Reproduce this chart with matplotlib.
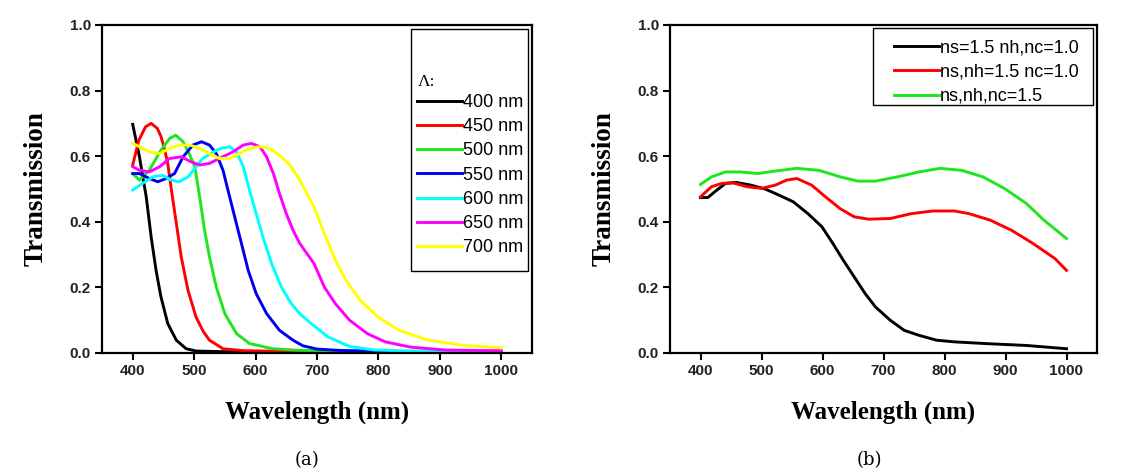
import matplotlib as mpl
mpl.use('Agg')
import matplotlib.pyplot as plt
from matplotlib.patches import Rectangle

W, H = 1123, 475

# ---- panel (a): grating period sweep ----
wl_400 = [400, 411, 422, 430, 438, 446, 457, 471, 487, 503, 550, 650, 800, 1000]
t_400 = [0.697, 0.598, 0.476, 0.354, 0.252, 0.171, 0.09, 0.039, 0.013, 0.006, 0.004, 0.003, 0.002, 0.002]

wl_450 = [400, 410, 421, 430, 440, 446, 452, 457, 463, 471, 479, 490, 503, 515, 525, 547, 580, 650, 800, 1000]
t_450 = [0.573, 0.649, 0.69, 0.70, 0.685, 0.660, 0.620, 0.578, 0.497, 0.395, 0.293, 0.191, 0.11, 0.065,
         0.039, 0.013, 0.007, 0.005, 0.004, 0.003]

wl_500 = [400, 411, 427, 446, 460, 470, 482, 492, 501, 509, 517, 525, 536, 550, 569, 590, 628, 672, 750, 1000]
t_500 = [0.547, 0.527, 0.557, 0.619, 0.654, 0.664, 0.644, 0.608, 0.568, 0.476, 0.374, 0.293, 0.201, 0.12,
         0.059, 0.029, 0.013, 0.008, 0.006, 0.004]

wl_550 = [400, 411, 427, 441, 454, 468, 482, 498, 512, 525, 536, 547, 555, 566, 577, 588, 601, 618, 639,
          661, 677, 700, 735, 800, 1000]
t_550 = [0.547, 0.547, 0.532, 0.522, 0.532, 0.547, 0.598, 0.634, 0.644, 0.634, 0.608, 0.557, 0.497, 0.415,
         0.334, 0.252, 0.181, 0.12, 0.069, 0.039, 0.022, 0.012, 0.008, 0.005, 0.004]

wl_600 = [400, 416, 433, 449, 463, 476, 490, 501, 514, 531, 544, 558, 569, 580, 590, 601, 612, 626, 642,
          658, 672, 689, 718, 753, 794, 850, 1000]
t_600 = [0.497, 0.517, 0.537, 0.542, 0.527, 0.522, 0.537, 0.563, 0.593, 0.613, 0.624, 0.629, 0.613, 0.568,
         0.497, 0.425, 0.354, 0.273, 0.201, 0.151, 0.12, 0.092, 0.049, 0.020, 0.009, 0.006, 0.005]

wl_650 = [400, 411, 427, 444, 460, 479, 495, 509, 525, 541, 563, 580, 593, 607, 618, 629, 639, 650, 661,
          672, 695, 712, 730, 753, 782, 811, 852, 910, 1000]
t_650 = [0.568, 0.557, 0.552, 0.568, 0.593, 0.598, 0.583, 0.573, 0.578, 0.593, 0.613, 0.634, 0.639, 0.629,
         0.598, 0.547, 0.486, 0.425, 0.374, 0.334, 0.273, 0.201, 0.15, 0.10, 0.059, 0.034, 0.018, 0.009, 0.007]

wl_700 = [400, 411, 427, 444, 460, 476, 493, 509, 525, 541, 558, 574, 590, 607, 623, 639, 656, 672, 695,
          712, 730, 747, 770, 799, 834, 881, 939, 1000]
t_700 = [0.639, 0.629, 0.613, 0.608, 0.624, 0.634, 0.634, 0.624, 0.608, 0.593, 0.593, 0.608, 0.624, 0.629,
         0.624, 0.603, 0.573, 0.527, 0.446, 0.364, 0.283, 0.222, 0.161, 0.11, 0.069, 0.039, 0.023, 0.016]

labels_a = ['400 nm', '450 nm', '500 nm', '550 nm', '600 nm', '650 nm', '700 nm']
colors_a = ['black', '#ff0000', '#1ee61e', '#0000ee', '#00ffff', '#ff00ff', '#ffff00']

# ---- panel (b): refractive index cases ----
wl_b1 = [400, 412, 423, 441, 459, 482, 506, 529, 552, 576, 599, 617, 634, 652, 670, 687, 711, 734, 758,
         787, 816, 875, 934, 1000]
t_b1 = [0.474, 0.474, 0.491, 0.517, 0.52, 0.512, 0.50, 0.481, 0.461, 0.425, 0.385, 0.334, 0.283, 0.232,
        0.181, 0.140, 0.10, 0.069, 0.054, 0.039, 0.034, 0.028, 0.023, 0.013]

wl_b2 = [400, 418, 435, 453, 476, 500, 523, 541, 558, 582, 605, 629, 652, 676, 711, 746, 781, 816, 840,
         875, 910, 945, 981, 1000]
t_b2 = [0.476, 0.507, 0.517, 0.519, 0.507, 0.502, 0.512, 0.527, 0.532, 0.512, 0.476, 0.44, 0.415, 0.408,
        0.41, 0.425, 0.433, 0.433, 0.425, 0.405, 0.374, 0.334, 0.288, 0.252]

wl_b3 = [400, 418, 441, 465, 494, 523, 558, 594, 629, 658, 687, 723, 758, 793, 828, 863, 898, 934, 963, 1000]
t_b3 = [0.514, 0.537, 0.552, 0.552, 0.547, 0.555, 0.563, 0.557, 0.537, 0.524, 0.524, 0.537, 0.552, 0.563,
        0.557, 0.537, 0.502, 0.456, 0.405, 0.349]

labels_b = ['ns=1.5 nh,nc=1.0', 'ns,nh=1.5 nc=1.0', 'ns,nh,nc=1.5']
colors_b = ['black', '#ff0000', '#1ee61e']

fig = plt.figure(figsize=(W / 100, H / 100), dpi=100)
ax1 = fig.add_axes([102 / W, 1 - 353 / H, 430 / W, 328 / H])
ax2 = fig.add_axes([670 / W, 1 - 353 / H, 427 / W, 328 / H])

series_a = [(wl_400, t_400), (wl_450, t_450), (wl_500, t_500), (wl_550, t_550),
            (wl_600, t_600), (wl_650, t_650), (wl_700, t_700)]
lines_a = []
for (x, y), c in zip(series_a, colors_a):
    ln, = ax1.plot(x, y, color=c, lw=2.1)
    lines_a.append(ln)

series_b = [(wl_b1, t_b1), (wl_b2, t_b2), (wl_b3, t_b3)]
lines_b = []
for (x, y), c in zip(series_b, colors_b):
    ln, = ax2.plot(x, y, color=c, lw=2.1)
    lines_b.append(ln)

for ax in (ax1, ax2):
    ax.set_xlim(350, 1050)
    ax.set_ylim(0, 1.0)
    ax.set_xticks([400, 500, 600, 700, 800, 900, 1000])
    ax.set_yticks([0.0, 0.2, 0.4, 0.6, 0.8, 1.0])
    ax.yaxis.set_major_formatter(mpl.ticker.FormatStrFormatter('%.1f'))
    for s in ax.spines.values():
        s.set_linewidth(1.6)
    ax.tick_params(direction='out', length=5, width=1.5, top=False, right=False,
                   labelsize=11, labelcolor='#222222', pad=3)
    for lab in ax.get_xticklabels() + ax.get_yticklabels():
        lab.set_fontweight('bold')
        lab.set_family('Liberation Sans')
    ax.set_xlabel('Wavelength (nm)', family='Liberation Serif', fontweight='bold', fontsize=18, labelpad=16)
    ax.set_ylabel('Transmission', family='Liberation Serif', fontweight='bold', fontsize=19.5, labelpad=15)

# legends, drawn without frame; boxes added separately
leg1 = ax1.legend(lines_a, labels_a, loc='upper left', bbox_to_anchor=(416.7 / W, 1 - 94 / H),
                  bbox_transform=fig.transFigure, frameon=False, borderpad=0, borderaxespad=0,
                  handlelength=2.5, handletextpad=0.05, labelspacing=0.40,
                  prop={'family': 'Liberation Sans', 'size': 13})
fig.text(418 / W, 1 - 82 / H, 'Λ:', family='Liberation Serif', fontsize=12.5, va='center', ha='left')
fig.add_artist(Rectangle((411 / W, 1 - 270.7 / H), 117.3 / W, 241.4 / H, transform=fig.transFigure,
                         fill=False, lw=1.0, ec='black'))

leg2 = ax2.legend(lines_b, labels_b, loc='upper left', bbox_to_anchor=(893.8 / W, 1 - 39.5 / H),
                  bbox_transform=fig.transFigure, frameon=False, borderpad=0, borderaxespad=0,
                  handlelength=2.5, handletextpad=0.05, labelspacing=0.40,
                  prop={'family': 'Liberation Sans', 'size': 13})
fig.add_artist(Rectangle((873.4 / W, 1 - 105 / H), 219.6 / W, 76.7 / H, transform=fig.transFigure,
                         fill=False, lw=1.0, ec='black'))

fig.text(307 / W, 1 - 460 / H, '(a)', family='DejaVu Serif', fontsize=13, ha='center', va='center')
fig.text(869 / W, 1 - 460 / H, '(b)', family='DejaVu Serif', fontsize=13, ha='center', va='center')

fig.savefig('out.png', dpi=100)
